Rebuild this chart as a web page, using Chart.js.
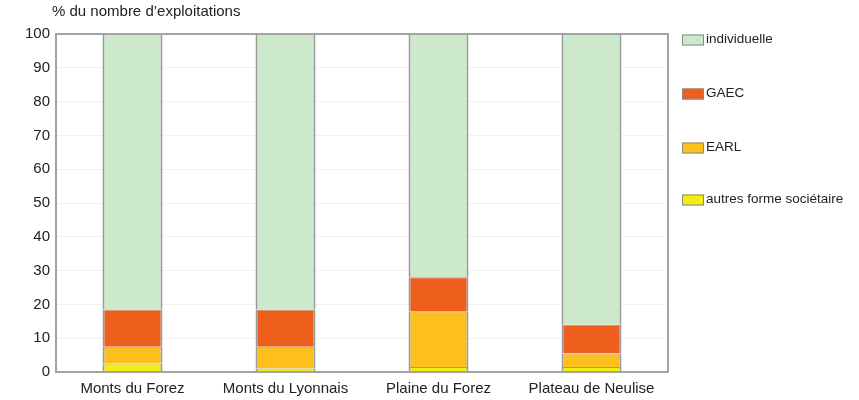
<!DOCTYPE html>
<html>
<head>
<meta charset="utf-8">
<script src="https://cdn.jsdelivr.net/npm/chart.js@4.4.1/dist/chart.umd.min.js"></script>
<style>
  html, body { margin: 0; padding: 0; background: #ffffff; }
  #wrap { width: 859px; height: 400px; position: relative; }
</style>
</head>
<body>
<div id="wrap"><canvas id="c" width="859" height="400"></canvas></div>
<script>
// ---- data ----
const categories = ["Monts du Forez", "Monts du Lyonnais", "Plaine du Forez", "Plateau de Neulise"];
const seriesNames = ["autres forme sociétaire", "EARL", "GAEC", "individuelle"];
const autres = [2.5, 1, 1.5, 1.5];
const earl = [5, 6.5, 16.5, 4];
const gaec = [11, 11, 10, 8.5];
const individuelle = [81.5, 81.5, 72, 86];
const yTicks = [0, 10, 20, 30, 40, 50, 60, 70, 80, 90, 100];
const yTitle = "% du nombre d\u2019exploitations";

// ---- styles ----
const fills = ["#f2ee14", "#fcbf1c", "#ee5f1e", "#cde9cb"];
const FONT = "'Liberation Sans', Arial, sans-serif";

const frameAndLegend = {
  id: 'frameAndLegend',
  afterDatasetsDraw(chart) {
    const ctx = chart.ctx, a = chart.chartArea;
    ctx.save();
    ctx.strokeStyle = '#a3a3a3';
    ctx.lineWidth = 2;
    ctx.strokeRect(a.left, a.top, a.right - a.left, a.bottom - a.top);
    ctx.restore();
  },
  afterDraw(chart) {
    const ctx = chart.ctx;
    ctx.save();
    ctx.font = "15px " + FONT;
    ctx.fillStyle = '#222';
    ctx.textAlign = 'left';
    ctx.textBaseline = 'middle';
    ctx.fillText(yTitle, 52, 12);
    const ds = chart.data.datasets.slice().reverse();
    const ys = [40, 94, 148, 200];
    ctx.font = "13.5px " + FONT;
    ds.forEach((d, i) => {
      const y = ys[i];
      ctx.fillStyle = d.backgroundColor;
      ctx.fillRect(682, y - 5.5, 22, 11);
      ctx.strokeStyle = '#8a8a8a';
      ctx.lineWidth = 1;
      ctx.strokeRect(682.5, y - 5, 21, 10);
      ctx.fillStyle = '#222';
      ctx.fillText(d.label, 706, y - 1);
    });
    ctx.restore();
  }
};

const seriesData = [autres, earl, gaec, individuelle];
new Chart(document.getElementById('c'), {
  type: 'bar',
  data: {
    labels: categories,
    datasets: seriesNames.map((n, i) => ({
      label: n,
      data: seriesData[i],
      backgroundColor: fills[i],
      borderColor: '#9a9a9a',
      borderWidth: {left: 2, right: 2, top: 1, bottom: 0},
      borderSkipped: false,
      barPercentage: 0.392,
      categoryPercentage: 1.0
    }))
  },
  options: {
    responsive: false,
    animation: false,
    devicePixelRatio: 1,
    layout: { padding: { top: 34, right: 191, bottom: 0, left: 0 } },
    plugins: { legend: { display: false }, tooltip: { enabled: false }, title: { display: false } },
    scales: {
      x: {
        stacked: true,
        afterFit(scale) { scale.height = 28; },
        grid: { display: false, drawTicks: false },
        border: { display: false },
        ticks: { color: '#222', font: { family: FONT, size: 15 }, padding: 8, maxRotation: 0, autoSkip: false }
      },
      y: {
        stacked: true,
        min: 0, max: 100,
        afterFit(scale) { scale.width = 56; },
        afterBuildTicks(scale) { scale.ticks = yTicks.map(v => ({ value: v })); },
        grid: { color: '#f1f1f1', lineWidth: 1, drawTicks: false },
        border: { display: false },
        ticks: { color: '#222', font: { family: FONT, size: 15 }, padding: 6 }
      }
    }
  },
  plugins: [frameAndLegend]
});
</script>
</body>
</html>
